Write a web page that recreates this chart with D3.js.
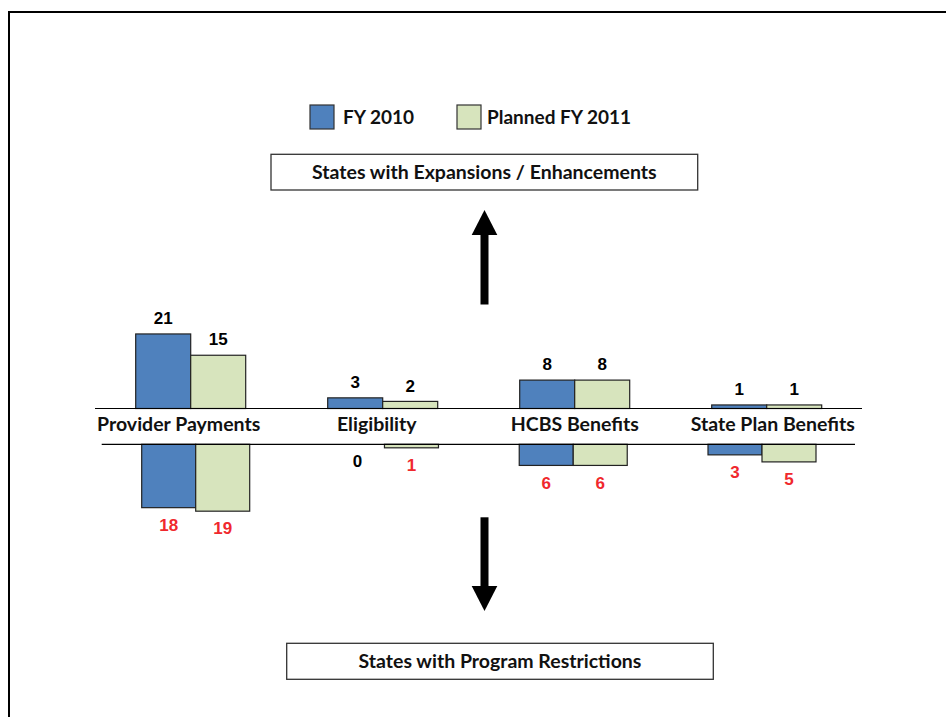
<!DOCTYPE html>
<html>
<head>
<meta charset="utf-8">
<script src="https://cdn.jsdelivr.net/npm/d3@7"></script>
<style>
  html, body { margin: 0; padding: 0; background: #fff; }
  svg { display: block; }
</style>
</head>
<body>
<svg id="chart" width="946" height="717"></svg>
<script>
// ---- Data ----
const categories = ["Provider Payments", "Eligibility", "HCBS Benefits", "State Plan Benefits"];
const seriesNames = ["FY 2010", "Planned FY 2011"];
const expansionsFY2010 = [21, 3, 8, 1];
const expansionsFY2011 = [15, 2, 8, 1];
const restrictionsFY2010 = [18, 0, 6, 3];
const restrictionsFY2011 = [19, 1, 6, 5];
const topBoxLabel = "States with Expansions / Enhancements";
const bottomBoxLabel = "States with Program Restrictions";

// ---- Styles ----
const colors = { "FY 2010": "#4f81bd", "Planned FY 2011": "#d7e4bd" };
const red = "#f0282d";
const labelFont = "Lato, 'Open Sans', sans-serif";
const numFont = "'Liberation Sans', Arial, sans-serif";

const svg = d3.select("#chart");

// frame
svg.append("line").attr("x1", 8).attr("x2", 946).attr("y1", 12).attr("y2", 12)
  .attr("stroke", "#000").attr("stroke-width", 2);
svg.append("line").attr("x1", 9).attr("x2", 9).attr("y1", 11).attr("y2", 717)
  .attr("stroke", "#000").attr("stroke-width", 2);

// ---- Scales ----
const xUp = d3.scalePoint().domain(categories).range([190.7, 766.7]);
const xDown = d3.scalePoint().domain(categories).range([195.7, 762]);
const xLabel = d3.scalePoint().domain(categories).range([178.7, 772.8]);
const subUp = d3.scaleBand().domain(seriesNames).range([-55, 55]);
const subDown = d3.scaleBand().domain(seriesNames).range([-54, 54]);
const yUp = d3.scaleLinear().domain([0, 21]).range([408.5, 408.5 - 21 * 3.55]);
const yDown = d3.scaleLinear().domain([0, 19]).range([444.3, 444.3 + 19 * 3.52]);

const upData = [];
const downData = [];
categories.forEach((c, i) => {
  upData.push({ c, s: seriesNames[0], v: expansionsFY2010[i] });
  upData.push({ c, s: seriesNames[1], v: expansionsFY2011[i] });
  downData.push({ c, s: seriesNames[0], v: restrictionsFY2010[i] });
  downData.push({ c, s: seriesNames[1], v: restrictionsFY2011[i] });
});

// upper bars
svg.append("g").selectAll("rect").data(upData.filter(d => d.v > 0)).join("rect")
  .attr("x", d => xUp(d.c) + subUp(d.s))
  .attr("width", subUp.bandwidth())
  .attr("y", d => yUp(d.v))
  .attr("height", d => yUp(0) - yUp(d.v))
  .attr("fill", d => colors[d.s])
  .attr("stroke", "#222").attr("stroke-width", 1.2);

// lower bars
svg.append("g").selectAll("rect").data(downData.filter(d => d.v > 0)).join("rect")
  .attr("x", d => xDown(d.c) + subDown(d.s))
  .attr("width", subDown.bandwidth())
  .attr("y", yDown(0))
  .attr("height", d => yDown(d.v) - yDown(0))
  .attr("fill", d => colors[d.s])
  .attr("stroke", "#222").attr("stroke-width", 1.2);

// baselines
svg.append("line").attr("x1", 95).attr("x2", 862).attr("y1", yUp(0)).attr("y2", yUp(0))
  .attr("stroke", "#000").attr("stroke-width", 1.2);
svg.append("line").attr("x1", 101.7).attr("x2", 855).attr("y1", yDown(0)).attr("y2", yDown(0))
  .attr("stroke", "#000").attr("stroke-width", 1.2);

// value labels
svg.append("g").selectAll("text").data(upData).join("text")
  .attr("x", d => xUp(d.c) + subUp(d.s) + subUp.bandwidth() / 2)
  .attr("y", d => yUp(d.v) - 9.9)
  .attr("text-anchor", "middle")
  .attr("font-family", numFont).attr("font-weight", "bold").attr("font-size", 17)
  .attr("fill", "#000")
  .text(d => d.v);

svg.append("g").selectAll("text").data(downData).join("text")
  .attr("x", d => xDown(d.c) + subDown(d.s) + subDown.bandwidth() / 2)
  .attr("y", d => yDown(d.v) + 23.1)
  .attr("text-anchor", "middle")
  .attr("font-family", numFont).attr("font-weight", "bold").attr("font-size", 17)
  .attr("fill", d => d.v > 0 ? red : "#000")
  .text(d => d.v);

// category labels
svg.append("g").selectAll("text").data(categories).join("text")
  .attr("x", d => xLabel(d))
  .attr("y", 431)
  .attr("text-anchor", "middle")
  .attr("font-family", labelFont).attr("font-weight", "bold").attr("font-size", 19.5)
  .attr("fill", "#111")
  .text(d => d);

// legend
const legendX = [310, 457];
seriesNames.forEach((s, i) => {
  svg.append("rect").attr("x", legendX[i]).attr("y", 105).attr("width", 24).attr("height", 24)
    .attr("fill", colors[s]).attr("stroke", "#333").attr("stroke-width", 1.2);
  svg.append("text").attr("x", legendX[i] + (i === 0 ? 33 : 30)).attr("y", 124)
    .attr("font-family", labelFont).attr("font-weight", "bold").attr("font-size", 19)
    .attr("fill", "#111").text(s);
});

// boxes
function box(x, y, w, h, label) {
  svg.append("rect").attr("x", x).attr("y", y).attr("width", w).attr("height", h)
    .attr("fill", "#fff").attr("stroke", "#333").attr("stroke-width", 1.3);
  svg.append("text").attr("x", x + w / 2).attr("y", y + h / 2 + 7)
    .attr("text-anchor", "middle")
    .attr("font-family", labelFont).attr("font-weight", "bold").attr("font-size", 19.5)
    .attr("fill", "#111").text(label);
}
box(271, 154.3, 426.7, 35.7, topBoxLabel);
box(286.7, 643.3, 426.6, 36, bottomBoxLabel);

// arrows
const ax = 484.5;
svg.append("rect").attr("x", ax - 4).attr("y", 234).attr("width", 8).attr("height", 70.5).attr("fill", "#000");
svg.append("path").attr("d", `M${ax - 12.8},235 L${ax + 12.8},235 L${ax},210 Z`).attr("fill", "#000");
svg.append("rect").attr("x", ax - 4).attr("y", 517.3).attr("width", 8).attr("height", 69.7).attr("fill", "#000");
svg.append("path").attr("d", `M${ax - 12.8},586 L${ax + 12.8},586 L${ax},611 Z`).attr("fill", "#000");
</script>
</body>
</html>
